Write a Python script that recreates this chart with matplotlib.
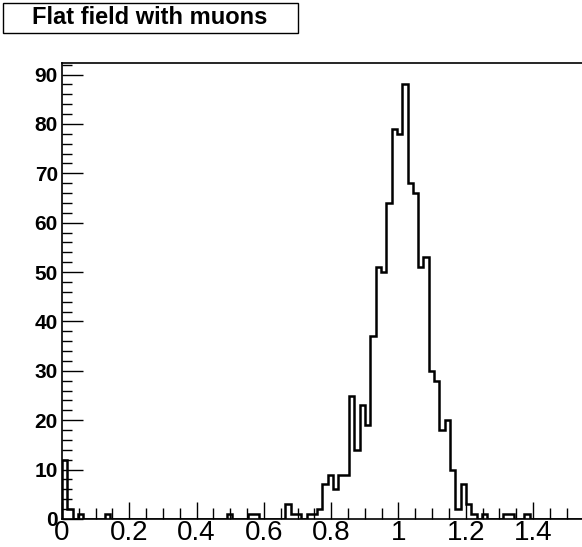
import matplotlib
matplotlib.use("Agg")
import matplotlib.pyplot as plt
import numpy as np
from matplotlib.ticker import MultipleLocator, FixedLocator
from matplotlib.patches import Rectangle

# flat field response, 100 bins
bin_lo = 0.0
bin_hi = 1.58
nbins = 100

counts = [12, 2, 0, 1, 0, 0, 0, 0, 1, 0,
          0, 0, 0, 0, 0, 0, 0, 0, 0, 0,
          0, 0, 0, 0, 0, 0, 0, 0, 0, 0,
          0, 1, 0, 0, 0, 1, 1, 0, 0, 0,
          0, 0, 3, 1, 1, 0, 1, 1, 2, 7,
          9, 6, 9, 9, 25, 14, 23, 19, 37, 51,
          50, 64, 79, 78, 88, 68, 66, 51, 53, 30,
          28, 18, 20, 10, 2, 7, 3, 1, 0, 1,
          0, 0, 0, 1, 1, 0, 0, 1, 0, 0,
          0, 0, 0, 0, 0, 0, 0, 0, 0, 0]

xlabels = [0, 0.2, 0.4, 0.6, 0.8, 1, 1.2, 1.4]
title = "Flat field with muons"

edges = np.linspace(bin_lo, bin_hi, nbins + 1)

W, H = 582, 547
fig = plt.figure(figsize=(W / 100, H / 100), dpi=100)
# frame runs off the right side of the canvas
ax = fig.add_axes([0.1065, 0.0512, 0.925, 0.8342])

ax.stairs(counts, edges, color="black", lw=1.8, baseline=0)

ax.set_xlim(0, 1.6)
ax.set_ylim(0, 1.05 * max(counts))

ax.xaxis.set_major_locator(FixedLocator(xlabels))
ax.xaxis.set_minor_locator(MultipleLocator(0.05))
ax.yaxis.set_major_locator(MultipleLocator(10))
ax.yaxis.set_minor_locator(MultipleLocator(2))
ax.set_xticklabels(["%g" % v for v in xlabels])

ax.tick_params(which="both", direction="in", top=False, right=False, width=1)
ax.tick_params(axis="y", which="major", length=15, pad=3)
ax.tick_params(axis="y", which="minor", length=7)
ax.tick_params(axis="x", which="major", length=12, pad=1)
ax.tick_params(axis="x", which="minor", length=8)

for lab in ax.get_yticklabels():
    lab.set_fontfamily("Liberation Sans")
    lab.set_fontweight("bold")
    lab.set_fontsize(15)
for lab in ax.get_xticklabels():
    lab.set_fontfamily("Liberation Sans")
    lab.set_fontsize(20)

for s in ["top", "left", "bottom"]:
    ax.spines[s].set_linewidth(1.2)
ax.spines["right"].set_visible(False)

# title box
fig.patches.append(Rectangle((3 / W, 1 - 33 / H), 295 / W, 30 / H,
                             transform=fig.transFigure, fc="white",
                             ec="black", lw=1))
fig.text(150 / W, 1 - 18 / H, title, ha="center", va="center", fontsize=17,
         fontweight="bold", family="Liberation Sans")

fig.savefig("out.png", dpi=100)
